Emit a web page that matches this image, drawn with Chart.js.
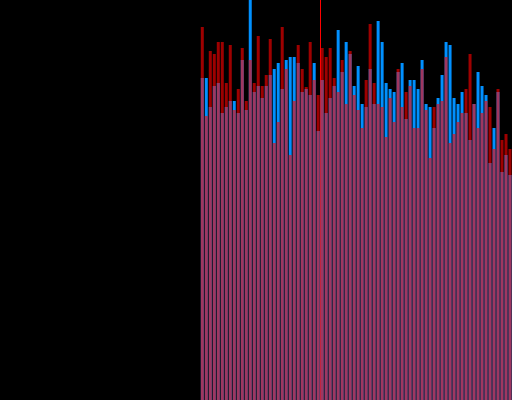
<!DOCTYPE html>
<html>
<head>
<meta charset="utf-8">
<script src="https://cdn.jsdelivr.net/npm/chart.js@4/dist/chart.umd.min.js"></script>
<style>
html, body { margin: 0; padding: 0; background: #000; overflow: hidden; }
canvas { display: block; }
</style>
</head>
<body>
<canvas id="c" width="512" height="400"></canvas>
<script>
// 128 bins; data begins at bin 50
const categories = Array.from({ length: 128 }, (_, i) => String(i));
const firstBin = 50;
const markerBin = 80;

const redValues = [373,284,349,346,358,358,317,355,290,311,352,299,340,317,364,314,325,361,257,278,
  373,331,245,299,355,331,313,358,320,305,352,343,352,322,308,340,296,349,305,290,
  272,320,376,317,296,293,263,302,278,331,293,308,314,272,272,331,290,242,293,296,
  299,343,257,266,278,287,311,346,296,272,287,299,293,251,311,260,266,251];

const blueValues = [322,322,293,314,317,287,293,299,299,287,340,290,400,308,314,302,314,325,331,337,
  311,340,343,343,337,308,311,305,337,269,320,287,302,314,370,328,358,346,314,334,
  296,293,331,296,379,358,317,311,308,328,337,281,320,320,311,340,296,293,272,302,
  325,358,355,302,296,308,287,260,296,328,314,305,237,272,308,228,245,225];

const toPoints = vals => vals.map((v, i) => ({ x: categories[firstBin + i], y: v }));

new Chart(document.getElementById('c'), {
  type: 'bar',
  data: {
    labels: categories,
    datasets: [
      {
        label: 'Red',
        data: toPoints(redValues),
        backgroundColor: 'rgba(255,0,0,0.62)',
        grouped: false,
        barPercentage: 0.75,
        categoryPercentage: 1
      },
      {
        label: 'Blue',
        data: toPoints(blueValues),
        backgroundColor: 'rgb(0,144,255)',
        grouped: false,
        barPercentage: 0.75,
        categoryPercentage: 1
      }
    ]
  },
  options: {
    responsive: false,
    animation: false,
    devicePixelRatio: 1,
    layout: { padding: { left: 0.5, right: -0.5, top: 0, bottom: 0 } },
    plugins: { legend: { display: false }, tooltip: { enabled: false }, title: { display: false } },
    scales: {
      x: {
        display: true,
        ticks: { display: false, autoSkip: false },
        border: { display: false },
        grid: {
          offset: true,
          drawTicks: false,
          lineWidth: 1,
          color: ctx => ctx.index === markerBin ? 'rgb(255,0,0)' : 'rgba(0,0,0,0)'
        }
      },
      y: { display: false, min: 0, max: 400 }
    }
  }
});
</script>
</body>
</html>
